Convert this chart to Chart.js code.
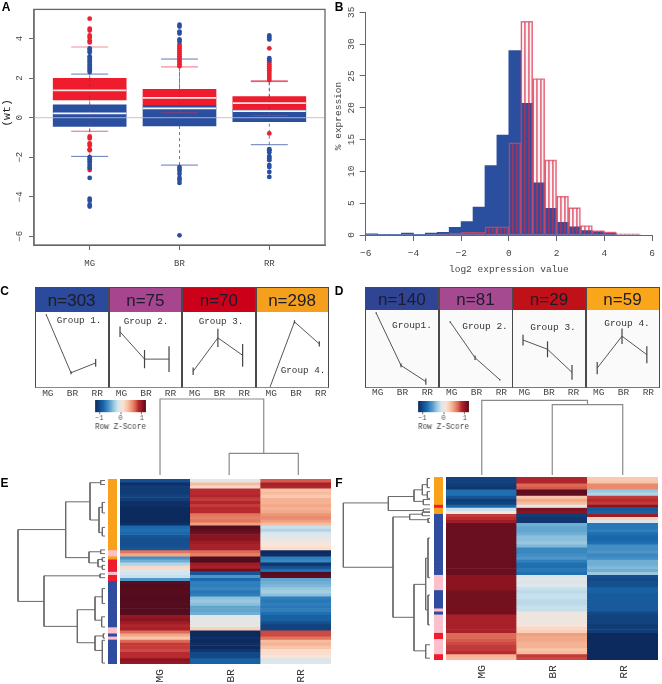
<!DOCTYPE html>
<html><head><meta charset="utf-8">
<script src="https://cdn.jsdelivr.net/npm/chart.js@4"></script>
<style>
html,body{margin:0;padding:0;background:#fff}
#page{position:relative;width:662px;height:684px;overflow:hidden;background:#fff;filter:blur(.35px)}
canvas{position:absolute;display:block}
.t{position:absolute;white-space:nowrap;line-height:1;transform:translate(-50%,-50%)}
.box{position:absolute;box-sizing:border-box}
</style></head><body><div id="page"></div>
<script>
/* ---------- DATA ---------- */
const categories=['MG','BR','RR'];
const boxPos=[1,2,3];
// Panel A
const redQ1=[.89,.65,.41], redMedian=[1.38,1.0,.73], redQ3=[1.98,1.43,1.06], redLow=[-.69,.24,.11], redHigh=[3.57,2.56,1.87];
const blueQ1=[-.44,-.42,-.2], blueMedian=[.21,.47,.33], blueQ3=[.65,.65,.41], blueLow=[-1.96,-2.4,-1.37], blueHigh=[2.2,2.96,1.82];
const outRedMG=[5,4.5,4.4,4.15,4.05,3.9,3.8,-.95,-1.05,-1.3,-1.4,-1.6,-1.65,-2.3,-2.5,-2.65];
const outBlueMG=[3.5,3.4,3.3,3.1,3,2.9,2.8,2.7,2.6,2.5,2.4,2.3,-2,-2.1,-2.2,-2.4,-2.55,-3.05,-4.1,-4.2,-4.4,-4.5];
const outRedBR=[3.7,3.6,3.5,3.4,3.3,3.2,3.1,3,2.9,2.8,2.7,2.6];
const outBlueBR=[4.7,4.6,4.35,4.25,3.95,3.85,-2.5,-2.6,-2.7,-2.85,-3.05,-3.15,-3.3,-5.95];
const outRedRR=[3.5,2.8,2.7,2.6,2.5,2.4,2.3,2.2,2.1,2,1.9,-.8];
const outBlueRR=[4.15,4.05,3.95,3,2.9,-1.6,-1.65,-1.75,-1.95,-2.05,-2.15,-2.4,-2.5,-2.75,-3];
const yTicksA=[-6,-4,-2,0,2,4];
// Panel B
const binCenters=[-5.75,-5.25,-4.75,-4.25,-3.75,-3.25,-2.75,-2.25,-1.75,-1.25,-.75,-.25,.25,.75,1.25,1.75,2.25,2.75,3.25,3.75,4.25,4.75,5.25];
const histBlue=[.2,.1,.1,.3,.1,.3,.4,1.2,2.1,4.4,10.9,15.7,29,20.7,8.2,4.2,2,1.3,.7,.5,.3,0,0];
const histRed=[0,0,0,0,0,0,.2,.3,.4,.4,1.3,1.3,14.5,33.6,24.6,11.8,6.1,4.3,1.5,.7,.5,.2,.2];
const xTicksB=[-6,-4,-2,0,2,4,6];
const yTicksB=[0,5,10,15,20,25,30,35];
// Panel C
const countsC=['n=303','n=75','n=70','n=298'];
const groupNamesC=['Group 1.','Group 2.','Group 3.','Group 4.'];
const profC1=[.96,.2,.33], errC1=[.01,.02,.05];
const profC2=[.74,.38,.38], errC2=[.07,.12,.17];
const profC3=[.22,.66,.43], errC3=[.05,.12,.15];
const profC4=[0,.87,.58], errC4=[0,.02,.035];
// Panel D
const countsD=['n=140','n=81','n=29','n=59'];
const groupNamesD=['Group1.','Group 2.','Group 3.','Group 4.'];
const profD1=[.96,.28,.07], errD1=[.01,.025,.04];
const profD2=[.845,.38,.095], errD2=[.01,.03,.01];
const profD3=[.61,.49,.19], errD3=[.07,.105,.095];
const profD4=[.245,.66,.42], errD4=[.08,.1,.11];
// Colour key ticks
const keyTicks=[-1,0,1];
// Panel E heatmap (row z-scores)
const heatE_MG=[-1.2,-1.45,-1.35,-1.35,-1.35,-1.3,-1.35,-1.45,-1.45,-1.5,-1.5,-1.5,-1.5,-1.5,-1.45,-1,-.95,-1,-1.15,-1.2,-1.2,-1.2,-1.15,.8,.55,-.75,-.55,-.3,.25,-.1,-.15,-.2,-.7,1.48,1.5,1.5,1.48,1.5,1.5,1.5,1.48,1.5,1.5,1.48,1.25,1.3,1.2,1.1,1.15,.85,.55,.4,.85,1,1,.95,1.05,1.05,1.3,1.25];
const heatE_BR=[-.05,.45,.25,1.05,1.05,1.1,1,1.1,1,1.05,1.05,.8,.75,.8,.6,1.5,1.45,1.4,1.3,1.3,1.2,1.15,1.15,.85,.75,1.5,1.5,1.2,1.15,1.4,-1.15,-.7,-1,-.85,-.85,-.8,-.9,-.85,-.45,-.4,-.45,-.6,-.6,-.55,-.05,0,-.05,0,.3,-1.5,-1.5,-1.45,-1.5,-1.45,-1.5,-1.4,-1.25,-1.25,-1.05,-1.05];
const heatE_RR=[.9,1.15,1.1,.4,.45,.35,.5,.5,.55,.5,.55,.65,.7,.6,.45,-.2,-.3,-.1,-.05,0,.1,.15,.2,-1.5,-1.45,-.85,-.8,-1.4,-1.2,-.95,1.5,1.45,-.6,-.55,-.5,-.4,-.35,-.45,-.85,-.9,-.85,-.9,-.85,-.95,-1.05,-1.05,-1.2,-1.3,-1.3,.95,.95,.8,.45,.5,.4,.2,.2,.15,-.1,-.05];
const sideE='OOOOOOOOOOOOOOOOOOOOOOOPPORRRRPRRBBBBBBBBBBBBBBBPPBPBBBBBBBB'.slice(0,60).split('');
// Panel F heatmap (row z-scores)
const heatF_MG=[-1.3,-1.3,-1.35,-1.4,-.95,-.95,-1.15,-1.35,-1.3,-1,-.2,.1,1,1.05,1.2,1.42,1.42,1.42,1.42,1.42,1.42,1.42,1.42,1.42,1.42,1.42,1.42,1.42,1.42,1.42,1.42,1.42,1.3,1.3,1.3,1.3,1.3,1.38,1.38,1.38,1.38,1.38,1.38,1.38,1.38,1.15,1.15,1.15,1.15,1.15,1.15,.85,.85,.9,.95,1,1,1.05,.5,.45];
const heatF_BR=[1.1,1.1,.85,.9,1.45,1.45,.4,.55,.45,-.05,1.35,1.3,-1.35,-1.4,-1.4,-.55,-.6,-.6,-.55,-.45,-.45,-.4,-.5,-.8,-.8,-.75,-.7,-.85,-.95,-.95,-.9,-.95,-.1,-.05,-.1,-.05,-.2,-.25,-.2,-.2,-.25,-.25,-.2,-.2,.03,.05,.05,.05,.1,.25,.3,.6,.55,.55,.5,.5,.4,.45,1,.95];
const heatF_RR=[.35,.4,.7,.7,-.4,-.3,1,1.05,1,1.3,-1.1,-1.05,1.2,.3,-.1,-.9,-.9,-.85,-.95,-1,-1,-.95,-.75,-.75,-.7,-.8,-.75,-.55,-.55,-.5,-.55,-.4,-1.2,-1.25,-1.2,-1.2,-1.05,-1.05,-1.1,-1.1,-1.1,-1.1,-1.1,-1.1,-1.25,-1.3,-1.3,-1.3,-1.35,-1.35,-1.35,-1.5,-1.5,-1.5,-1.5,-1.5,-1.5,-1.5,-1.5,-1.5];
const sideF='OOOOOOOOOROOBBBBBBBBBBBBBBBBBBBBPPPPPBBBBBBPBPPPPPPRRPPPPPRR'.split('');
// Dendrogram E merges: height, y1, child1 height, y2, child2 height
const dendE_h =[261,118,45,13,18,8,8,48,13,21,8,8,183,15,83,30,8,10,30,5,8];
const dendE_y1=[16.4,7.4,1.2,.5,9.2,7.6,15.7,23.6,23,26.1,25.5,28,31.4,30.8,42.4,38.2,35.5,44.7,50.9,50.2,52.3];
const dendE_c1=[118,45,13,0,8,0,0,13,0,8,0,0,15,0,30,8,0,0,5,0,0];
const dendE_y2=[39.7,25.5,13.3,1.8,17.4,11,18.5,27.2,24.2,28.5,26.7,29.3,47.8,32,53.1,45.8,40.4,48,55.6,51.6,59.7];
const dendE_c2=[183,48,18,0,8,0,0,21,0,8,0,0,83,0,30,10,0,0,8,0,0];
// Dendrogram F merges
const dendF_h =[260,125,48,23,8,8,20,20,111,61,23,6,48,13,6,6,13];
const dendF_y1=[8.5,6.4,4.2,2.5,.5,4.8,7.4,10.5,13.1,12.2,11.6,13.6,35.2,26.6,20,38.7,55];
const dendF_c1=[125,48,23,8,0,0,0,0,61,23,0,0,13,6,0,0,0];
const dendF_y2=[29.6,11,8,5.9,3.5,7,9.1,11.4,46,14,12.7,14.9,57,43.6,33,48.5,59.4];
const dendF_c2=[111,20,20,8,0,0,0,0,48,6,0,0,13,6,0,0,0];
// Column dendrogram heights
const topE_join=21.7, topE_root=76;
const topF_join=70.4, topF_root=74.7;

/* ---------- STYLE ---------- */
const MONO='"Liberation Mono"', SANS='"Liberation Sans"';
const BLUE='#2b4f9f', RED='#ee1c2c';
const sideColors={O:'#f9a11b',P:'#fcc0cc',R:'#ee1c2c',B:'#2f4c9e'};
const rampStops=[[-1.5,'#0c2a5e'],[-1.2,'#164f8f'],[-1,'#1968ab'],[-.85,'#2f7fbc'],[-.6,'#62a5cf'],[-.4,'#9ac8e0'],[-.15,'#d3e5ef'],[0,'#e8e6e4'],[.15,'#fbe3d6'],[.4,'#f9c4a8'],[.6,'#f0a07f'],[.85,'#dd6a56'],[1.05,'#b92a30'],[1.3,'#8b1420'],[1.5,'#520c1e']];
function hex(c){return [1,3,5].map(i=>parseInt(c.substr(i,2),16));}
function ramp(z){
  z=Math.max(-1.5,Math.min(1.5,z));
  for(let i=1;i<rampStops.length;i++){
    if(z<=rampStops[i][0]){
      const [a,ca]=rampStops[i-1],[b,cb]=rampStops[i],t=(z-a)/(b-a),A=hex(ca),B=hex(cb);
      return 'rgb('+A.map((v,k)=>Math.round(v+(B[k]-v)*t)).join(',')+')';
    }
  }
  return rampStops[rampStops.length-1][1];
}
/* ---------- HELPERS ---------- */
const page=document.getElementById('page');
Chart.defaults.animation=false;
Chart.defaults.responsive=false;
Chart.defaults.devicePixelRatio=1;
Chart.defaults.layout.autoPadding=false;
Chart.defaults.plugins.legend.display=false;
Chart.defaults.plugins.tooltip.enabled=false;
function make(x,y,w,h,cfg){
  const c=document.createElement('canvas');c.width=w;c.height=h;
  c.style.left=x+'px';c.style.top=y+'px';c.style.width=w+'px';c.style.height=h+'px';
  page.appendChild(c);
  cfg.options=cfg.options||{};
  return new Chart(c,cfg);
}
function text(s,x,y,size,font,opt){
  opt=opt||{};
  const d=document.createElement('div');d.className='t';d.textContent=s;
  d.style.cssText+=`left:${x}px;top:${y}px;font-size:${size}px;font-family:${font};color:${opt.color||'#333'};font-weight:${opt.weight||'normal'};`+(opt.rot?`transform:translate(-50%,-50%) rotate(${opt.rot}deg);`:'');
  page.appendChild(d);
}
function box(x,y,w,h,css){
  const d=document.createElement('div');d.className='box';
  d.style.cssText+=`left:${x}px;top:${y}px;width:${w}px;height:${h}px;`+css;
  page.appendChild(d);
}
const fix=v=>(s=>{if(s.isHorizontal())s.height=v;else s.width=v;});
const setTicks=a=>(s=>{s.ticks=a.map(v=>({value:v}));});
const minus=v=>String(v).replace('-','\u2212');
const frame={id:'frame',afterDraw(ch){const a=ch.chartArea,c=ch.ctx;c.save();c.strokeStyle='#666';c.lineWidth=1.3;c.strokeRect(a.left,a.top,a.right-a.left,a.bottom-a.top);c.restore();}};

/* ---------- PANEL A ---------- */
const pts=(xs,ys)=>xs.map((x,i)=>({x,y:ys[i]}));
const outliers=(a,b,c)=>[...a.map(y=>({x:1,y})),...b.map(y=>({x:2,y})),...c.map(y=>({x:3,y}))];
const whiskers=(q1,lo,q3,hi)=>boxPos.flatMap((x,i)=>[{x,y:lo[i]},{x,y:q1[i]},{x,y:null},{x,y:q3[i]},{x,y:hi[i]},{x,y:null}]);
const marks=(ys,color,r,w,order)=>({type:'scatter',data:pts(boxPos,ys),pointStyle:'line',pointRadius:r,pointBorderColor:color,pointBorderWidth:w,borderColor:color,pointHoverRadius:r,order});
make(0,0,331,275,{type:'bar',data:{datasets:[
  {data:boxPos.map((x,i)=>({x,y:[blueQ1[i],blueQ3[i]]})),backgroundColor:BLUE,barThickness:73,grouped:false,order:8},
  {data:boxPos.map((x,i)=>({x,y:[redQ1[i],redQ3[i]]})),backgroundColor:RED,barThickness:73,grouped:false,order:7},
  {type:'line',data:whiskers(blueQ1,blueLow,blueQ3,blueHigh),borderColor:'rgba(43,79,159,.75)',borderWidth:1,borderDash:[3,3],pointRadius:0,spanGaps:false,order:6},
  {type:'line',data:whiskers(redQ1,redLow,redQ3,redHigh),borderColor:'rgba(200,40,70,.75)',borderWidth:1,borderDash:[3,3],pointRadius:0,spanGaps:false,order:5.5},
  marks(blueMedian,'#f4f4fb',36.5,1.8,5),
  marks(redMedian,'#fde4e4',36.5,1.8,4.9),
  marks(blueHigh,'rgba(60,90,165,.8)',18.5,1,4),
  marks(blueLow,'rgba(60,90,165,.8)',18.5,1,4),
  marks(redHigh,'rgba(235,80,100,.65)',18.5,1.2,3.9),
  marks(redLow,'rgba(200,50,80,.7)',18.5,1,3.9),
  {type:'scatter',data:outliers(outBlueMG,outBlueBR,outBlueRR),backgroundColor:'#2b4f9f',borderWidth:0,pointRadius:2.4,order:3},
  {type:'scatter',data:outliers(outRedMG,outRedBR,outRedRR),backgroundColor:'#ec2030',borderWidth:0,pointRadius:2.4,order:3.5},
  {type:'line',data:[{x:.38,y:0},{x:3.62,y:0}],borderColor:'rgba(190,190,190,.7)',borderWidth:1.2,pointRadius:0,order:1}
]},plugins:[frame],options:{layout:{padding:{top:1.5,right:6}},scales:{
  x:{type:'linear',min:.38,max:3.62,offset:false,afterBuildTicks:setTicks(boxPos),afterFit:fix(30),
     grid:{drawOnChartArea:false,offset:false,tickLength:5,color:'#666'},border:{color:'#666'},
     ticks:{autoSkip:false,maxRotation:0,padding:8,color:'#444',font:{family:MONO,size:9},callback:v=>categories[v-1]}},
  y:{min:-6.44,max:5.47,afterBuildTicks:setTicks(yTicksA),afterFit:fix(34),
     grid:{drawOnChartArea:false,tickLength:5,color:'#666'},border:{color:'#888',width:1.5},
     ticks:{minRotation:90,maxRotation:90,crossAlign:'center',padding:4,color:'#444',font:{family:MONO,size:9},callback:minus}}
}}});
text('(wt)',7,113,11.5,MONO,{rot:-90,color:'#222'});

/* ---------- PANEL B ---------- */
const hatch=document.createElement('canvas');hatch.width=4;hatch.height=4;
{const c=hatch.getContext('2d');c.fillStyle='rgba(200,30,60,.06)';c.fillRect(0,0,4,4);c.fillStyle='rgba(215,40,70,.62)';c.fillRect(1,0,1.8,4);}
const hatchPat=hatch.getContext('2d').createPattern(hatch,'repeat');
make(331,0,331,275,{type:'bar',data:{datasets:[
  {data:pts(binCenters,histBlue),backgroundColor:'#2b4f9f',barThickness:12,grouped:false,order:2},
  {data:pts(binCenters,histRed),backgroundColor:hatchPat,borderColor:'rgba(225,70,95,.75)',borderWidth:1,barThickness:12,grouped:false,order:1}
]},options:{layout:{padding:{top:12.3,right:10}},scales:{
  x:{type:'linear',min:-6,max:6,offset:false,afterBuildTicks:setTicks(xTicksB),afterFit:fix(40),
     grid:{drawOnChartArea:false,offset:false,tickLength:6,color:'#666'},border:{color:'#666'},
     ticks:{autoSkip:false,maxRotation:0,padding:7,color:'#444',font:{family:MONO,size:9.5},callback:minus},
     title:{display:true,text:'log2 expression value',color:'#444',font:{family:MONO,size:9.5},padding:{top:6,bottom:0}}},
  y:{min:0,max:35,afterBuildTicks:setTicks(yTicksB),afterFit:fix(34.7),
     grid:{drawOnChartArea:false,tickLength:6,color:'#666'},border:{color:'#666'},
     ticks:{minRotation:90,maxRotation:90,crossAlign:'center',padding:3,color:'#444',font:{family:MONO,size:9.5}}}
}}});
text('% expression',338.5,116,9.5,MONO,{rot:-90,color:'#444'});

/* ---------- PANELS C, D ---------- */
function profile(x,top,w,h,extra,prof,err,xmin,xmax){
  const errs=boxPos.flatMap((p,i)=>[{x:p,y:prof[i]-err[i]},{x:p,y:prof[i]+err[i]},{x:p,y:null}]);
  make(x,top,w,h+extra,{type:'line',data:{datasets:[
    {data:pts(boxPos,prof),borderColor:'#555',borderWidth:1,pointRadius:0,tension:0,order:2},
    {data:errs,borderColor:'#444',borderWidth:1.2,pointRadius:0,spanGaps:false,order:1}
  ]},options:{scales:{
    x:{type:'linear',min:xmin,max:xmax,afterBuildTicks:setTicks(boxPos),afterFit:fix(extra),grid:{display:false,drawTicks:false},border:{display:false},
       ticks:{autoSkip:false,maxRotation:0,padding:0,labelOffset:1.5,color:'#444',font:{family:MONO,size:9.5},callback:v=>categories[v-1]}},
    y:{display:false,min:0,max:1}
  }}});
}
function keyChart(x,y,w,h,extra){
  make(x,y,w+12,h+extra,{type:'bar',data:{datasets:[{
    data:[{x:0,y:[0,1]}],barThickness:w,
    backgroundColor:ctx=>{const a=ctx.chart.chartArea;if(!a)return '#fff';
      const g=ctx.chart.ctx.createLinearGradient(a.left,0,a.right,0);
      rampStops.forEach(([z,c])=>g.addColorStop((z+1.5)/3,c));return g;}
  }]},options:{layout:{padding:{left:6,right:6}},scales:{
    x:{type:'linear',min:-1.2,max:1.2,offset:false,afterBuildTicks:setTicks(keyTicks),afterFit:fix(extra),
       grid:{drawOnChartArea:false,offset:false,tickLength:2,color:'#777'},border:{display:false},
       ticks:{autoSkip:false,maxRotation:0,padding:0,color:'#444',font:{family:MONO,size:6.5},callback:minus},
       title:{display:true,text:'Row Z-Score',color:'#444',font:{family:MONO,size:9.3},padding:{top:.7,bottom:0}}},
    y:{display:false,min:0,max:1}
  }}});
}
// C
const edgesC=[34.7,108.7,182,255.7,328.3];
const headC=['#2b4a9b','#a8458f','#cc0018','#f5a01c'];
const profsC=[profC1,profC2,profC3,profC4], errsC=[errC1,errC2,errC3,errC4];
const rangeC=[[.54,3.54],[.55,3.53],[.55,3.54],[.45,3.39]];
const labelPosC=[[79,321],[146,321.5],[221,322],[303,371]];
edgesC.slice(0,4).forEach((x,i)=>{
  const w=edgesC[i+1]-x;
  box(x,287.3,w,24.7,`background:${headC[i]};`);
  text(countsC[i],x+w/2,299.8,17,SANS,{color:'#1c1c2c'});
  box(x,312,w,76.3,'background:#fff;');
  profile(x,312,Math.round(w),76,12,profsC[i],errsC[i],rangeC[i][0],rangeC[i][1]);
  box(x,287.3,w+.5,101,'border:1px solid #4a4a4a;border-bottom:1.5px solid #888;background:transparent;');
  text(groupNamesC[i],labelPosC[i][0],labelPosC[i][1],9.3,MONO,{color:'#333'});
});
keyChart(89.3,400,50.4,12.3,19.7);
// D
const edgesD=[365,438.7,512.3,585.7,659.3];
const headD=['#2f4594','#a54a90','#c01018','#faa61a'];
const profsD=[profD1,profD2,profD3,profD4], errsD=[errD1,errD2,errD3,errD4];
const rangeD=[[.55,3.53],[.55,3.53],[.55,3.53],[.55,3.53]];
const labelPosD=[[412,326],[485,327],[553,328],[627,324]];
edgesD.slice(0,4).forEach((x,i)=>{
  const w=edgesD[i+1]-x;
  box(x,286.7,w,23.3,`background:${headD[i]};`);
  text(countsD[i],x+w/2,298.6,17,SANS,{color:'#1c1c2c'});
  box(x,310,w,77.3,'background:#fafafa;');
  profile(x,310,Math.round(w),77,16,profsD[i],errsD[i],rangeD[i][0],rangeD[i][1]);
  box(x,286.7,w+.5,101,'border:1px solid #4a4a4a;border-bottom:1.5px solid #777;background:transparent;');
  text(groupNamesD[i],labelPosD[i][0],labelPosD[i][1],9.5,MONO,{color:'#333'});
});
keyChart(412.3,400.7,50.7,11.6,19.7);

/* ---------- PANELS E, F ---------- */
function heat(x,y,w,h,extra,cols,shift){
  const rows=cols[0].map((_,r)=>({
    data:cols.map(()=>1),
    backgroundColor:cols.map(c=>ramp(c[r])),
    borderWidth:0,barPercentage:1,categoryPercentage:1,stack:'s'
  }));
  make(x,y,w,h+extra,{type:'bar',data:{labels:categories,datasets:rows},options:{scales:{
    x:{stacked:true,afterFit:fix(extra),grid:{display:false,drawTicks:false},border:{display:false},
       ticks:{autoSkip:false,minRotation:90,maxRotation:90,padding:5,labelOffset:shift,color:'#333',font:{family:MONO,size:11.5}}},
    y:{display:false,stacked:true,reverse:true,min:0,max:60}
  }}});
}
function side(x,y,w,h,codes){
  const rows=codes.map(k=>({data:[1],backgroundColor:sideColors[k],borderWidth:0,barPercentage:1,categoryPercentage:1,stack:'s'}));
  make(x,y,w,h,{type:'bar',data:{labels:['group'],datasets:rows},options:{scales:{
    x:{display:false,stacked:true},y:{display:false,stacked:true,reverse:true,min:0,max:60}
  }}});
}
function dendro(x,y,w,h,maxH,H,Y1,C1,Y2,C2){
  const sets=H.map((v,i)=>({data:[{x:C1[i],y:Y1[i]},{x:v,y:Y1[i]},{x:v,y:Y2[i]},{x:C2[i],y:Y2[i]}],
    borderColor:'#6a6a6a',borderWidth:1,pointRadius:0,tension:0}));
  make(x,y,w,h,{type:'line',data:{datasets:sets},options:{scales:{
    x:{type:'linear',display:false,reverse:true,min:0,max:maxH},
    y:{display:false,reverse:true,min:0,max:60}
  }}});
}
function topDendro(x,y,w,h,xmin,xmax,ymax,join,root,color){
  const sets=[
    [{x:2,y:0},{x:2,y:join},{x:3,y:join},{x:3,y:0}],
    [{x:1,y:0},{x:1,y:root},{x:2.5,y:root},{x:2.5,y:join}]
  ].map(d=>({data:d,borderColor:color,borderWidth:1.2,pointRadius:0,tension:0}));
  make(x,y,w,h,{type:'line',data:{datasets:sets},options:{scales:{
    x:{type:'linear',display:false,min:xmin,max:xmax},y:{display:false,min:0,max:ymax}
  }}});
}
heat(120,479,211,185,20,[heatE_MG,heatE_BR,heatE_RR],5);
side(108,479,9,185,sideE);
dendro(10,479,95,185,285,dendE_h,dendE_y1,dendE_c1,dendE_y2,dendE_c2);
topDendro(150,395,160,80,.855,3.169,80,topE_join,topE_root,'#8a8a8a');

heat(446,477,212,183,20,[heatF_MG,heatF_BR,heatF_RR],1);
side(434,477,9,183,sideF);
dendro(340,477,90,183,270,dendF_h,dendF_y1,dendF_c1,dendF_y2,dendF_c2);
topDendro(470,395,165,80,.833,3.174,80,topF_join,topF_root,'#8a8a8a');

/* ---------- PANEL LETTERS ---------- */
[['A',6,7],['B',339,7],['C',4.5,291],['D',339,291],['E',4.5,483],['F',339,483]].forEach(([s,x,y])=>
  text(s,x,y,12,SANS,{weight:'bold',color:'#000'}));
</script></body></html>
